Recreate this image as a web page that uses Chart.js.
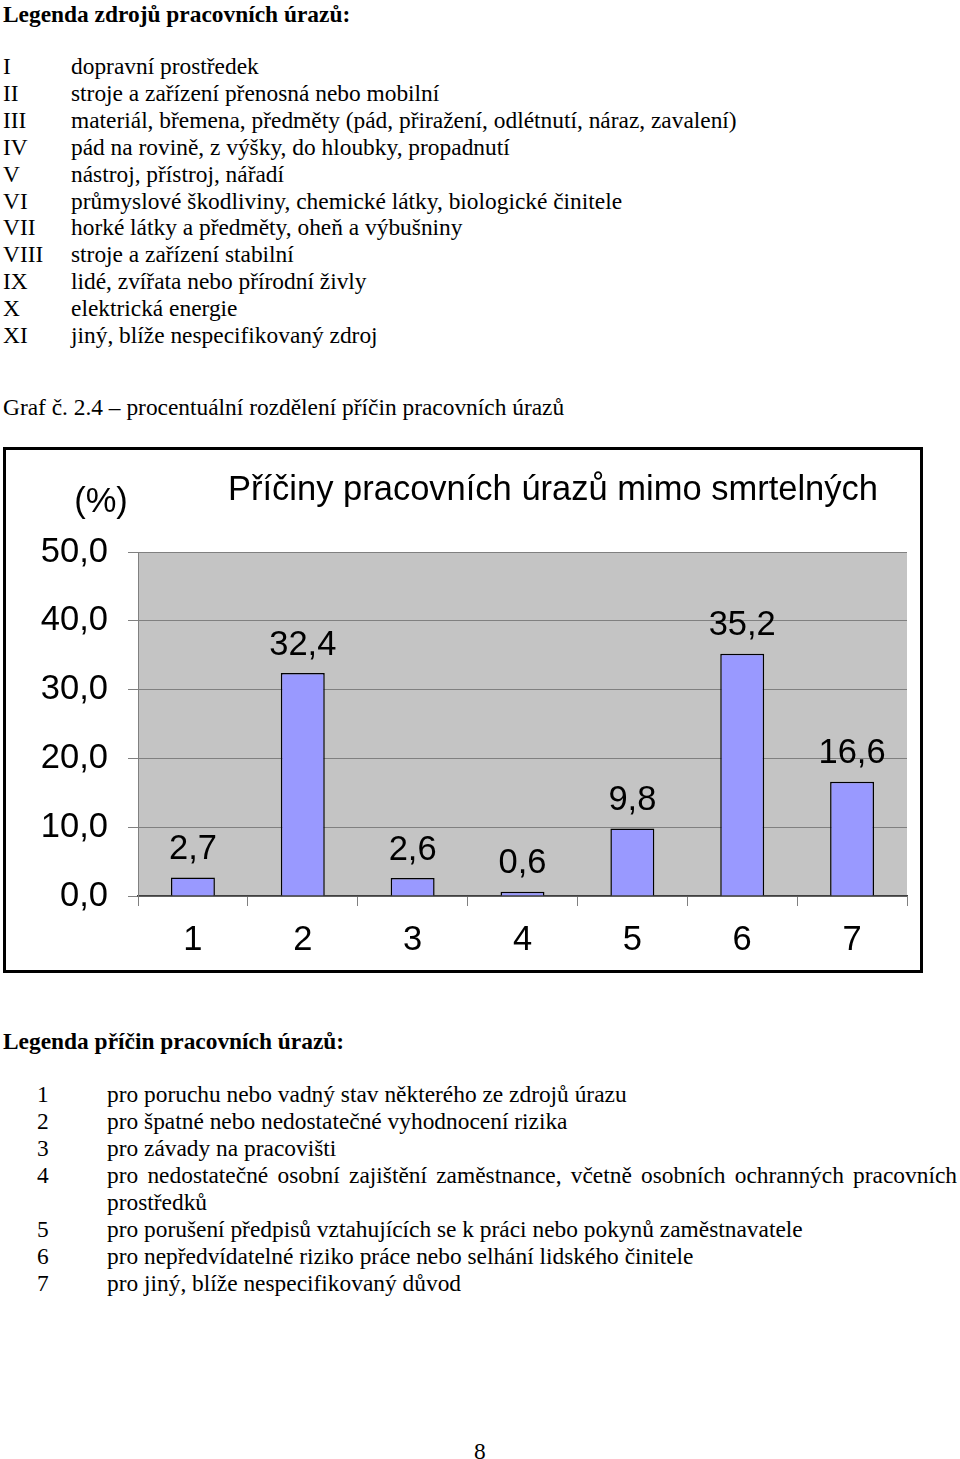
<!DOCTYPE html>
<html>
<head>
<meta charset="utf-8">
<script src="https://cdn.jsdelivr.net/npm/chart.js@4/dist/chart.umd.min.js"></script>
<style>
html,body{margin:0;padding:0;background:#fff;}
body{width:960px;height:1459px;position:relative;overflow:hidden;font-family:"Liberation Serif","Times New Roman",serif;font-size:23.4px;color:#000;}
.t{position:absolute;white-space:nowrap;line-height:26px;}
.b{font-weight:bold;}
#box{position:absolute;left:3px;top:447px;width:914px;height:520px;border:3px solid #000;background:#fff;}
#box canvas{display:block;}
</style>
</head>
<body>
<div class="t b" style="left:3px;top:1px;">Legenda zdrojů pracovních úrazů:</div>
<div id="src"></div>
<div class="t" style="left:3px;top:394px;">Graf č. 2.4 – procentuální rozdělení příčin pracovních úrazů</div>
<div id="box"><canvas id="c" width="914" height="520"></canvas></div>
<div class="t b" style="left:3px;top:1028px;">Legenda příčin pracovních úrazů:</div>
<div id="cause"></div>
<div class="t" style="left:474px;top:1438px;">8</div>
<script>
// ---- data ----
const categories = ['1','2','3','4','5','6','7'];
const values = [2.7, 32.4, 2.6, 0.6, 9.8, 35.2, 16.6];
const yTickLabels = ['0,0','10,0','20,0','30,0','40,0','50,0'];
const chartTitle = 'Příčiny pracovních úrazů mimo smrtelných';
const yUnit = '(%)';
const sourceCodes = ['I','II','III','IV','V','VI','VII','VIII','IX','X','XI'];
const sourceTexts = ['dopravní prostředek','stroje a zařízení přenosná nebo mobilní','materiál, břemena, předměty (pád, přiražení, odlétnutí, náraz, zavalení)','pád na rovině, z výšky, do hloubky, propadnutí','nástroj, přístroj, nářadí','průmyslové škodliviny, chemické látky, biologické činitele','horké látky a předměty, oheň a výbušniny','stroje a zařízení stabilní','lidé, zvířata nebo přírodní živly','elektrická energie','jiný, blíže nespecifikovaný zdroj'];
const causeTexts = ['pro poruchu nebo vadný stav některého ze zdrojů úrazu','pro špatné nebo nedostatečné vyhodnocení rizika','pro závady na pracovišti','pro nedostatečné osobní zajištění zaměstnance, včetně osobních ochranných pracovních','pro porušení předpisů vztahujících se k práci nebo pokynů zaměstnavatele','pro nepředvídatelné riziko práce nebo selhání lidského činitele','pro jiný, blíže nespecifikovaný důvod'];
const causeCont = 'prostředků';

// ---- text legends ----
const src = document.getElementById('src');
sourceCodes.forEach((c,i)=>{
  const top = 53 + i*26.9;
  src.insertAdjacentHTML('beforeend', `<div class="t" style="left:3px;top:${top}px;">${c}</div><div class="t" style="left:71px;top:${top}px;">${sourceTexts[i]}</div>`);
});
const cause = document.getElementById('cause');
let row = 0;
causeTexts.forEach((t,i)=>{
  const top = 1081 + row*27;
  let html = `<div class="t" style="left:37px;top:${top}px;">${categories[i]}</div>`;
  if (i === 3) {
    html += `<div class="t" style="left:107px;top:${top}px;width:850px;white-space:normal;text-align:justify;text-align-last:justify;">${t}</div>`;
    row++;
    html += `<div class="t" style="left:107px;top:${1081 + row*27}px;">${causeCont}</div>`;
  } else {
    html += `<div class="t" style="left:107px;top:${top}px;">${t}</div>`;
  }
  cause.insertAdjacentHTML('beforeend', html);
  row++;
});

// ---- chart ----
const FONT = '"Liberation Sans", Arial, sans-serif';
const FS = 34.5;
const bgPlugin = {
  id:'bg',
  beforeDraw(chart){
    const {ctx, chartArea:a} = chart;
    ctx.save();
    ctx.fillStyle = '#c4c4c4';
    ctx.fillRect(a.left, a.top, a.right-a.left, a.bottom-a.top);
    ctx.restore();
  },
  afterDraw(chart){
    const {ctx} = chart;
    ctx.save();
    ctx.fillStyle = '#000';
    ctx.font = FS + 'px ' + FONT;
    ctx.textAlign = 'center';
    ctx.textBaseline = 'middle';
    ctx.fillText(chartTitle, 547, 40);
    ctx.fillText(yUnit, 95, 52);
    const meta = chart.getDatasetMeta(0);
    meta.data.forEach((bar,i)=>{
      ctx.fillText(values[i].toFixed(1).replace('.', ','), bar.x, bar.y - 28);
    });
    ctx.restore();
  }
};
new Chart(document.getElementById('c'), {
  type:'bar',
  data:{ labels:categories, datasets:[{ data:values, backgroundColor:'#9999ff', borderColor:'#000', borderWidth:1.5, barPercentage:0.4, categoryPercentage:1 }]},
  options:{
    responsive:false, animation:false,
    layout:{ padding:{ top:102, right:13, left:0, bottom:0 } },
    plugins:{ legend:{display:false}, tooltip:{enabled:false}, title:{display:false} },
    scales:{
      x:{
        offset:true,
        grid:{ display:true, drawOnChartArea:false, drawTicks:true, tickLength:10, color:'#808080', offset:true },
        border:{ display:true, color:'#404040', width:1.5 },
        ticks:{ color:'#000', font:{ family:FONT, size:FS }, padding:14 },
        afterFit(s){ s.height = 74; }
      },
      y:{
        min:0, max:50,
        grid:{ color:'#808080', lineWidth:1, tickLength:10, drawTicks:true },
        border:{ display:true, color:'#808080', width:1 },
        ticks:{ stepSize:10, color:'#000', font:{ family:FONT, size:FS }, padding:20,
          callback:(v,i)=> yTickLabels[i] },
        afterFit(s){ s.width = 132; }
      }
    }
  },
  plugins:[bgPlugin]
});
</script>
</body>
</html>
